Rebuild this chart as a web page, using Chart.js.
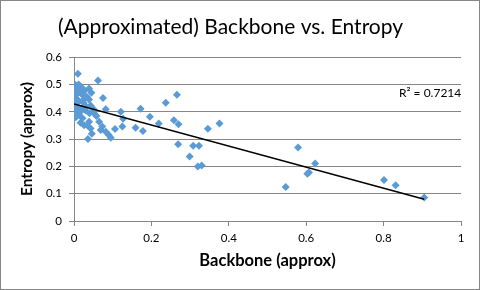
<!DOCTYPE html>
<html>
<head>
<meta charset="utf-8">
<script src="https://cdn.jsdelivr.net/npm/chart.js@4/dist/chart.umd.min.js"></script>
<style>
	body { margin: 0; background: #fff; }
	#wrap { width: 480px; height: 290px; }
</style>
</head>
<body>
<div id="wrap"><canvas id="grafico" width="480" height="290"></canvas></div>
<script>
var tituloGrafico = "(Approximated) Backbone vs. Entropy";
var tituloX = "Backbone (approx)";
var tituloY = "Entropy (approx)";
var textoR2 = "R\u00b2 = 0.7214";

var xTicks = [0, 0.2, 0.4, 0.6, 0.8, 1];
var yTicks = [0, 0.1, 0.2, 0.3, 0.4, 0.5, 0.6];

// backbone (x) e entropy (y)
var backbone = [
	0.010, 0.062, 0.000, 0.005, 0.013, 0.039, 0.028, 0.004, 0.018, 0.022,
	0.033, 0.045, 0.075, 0.000, 0.008, 0.039, 0.013, 0.025, 0.043, 0.003,
	0.010, 0.020, 0.000, 0.030, 0.050, 0.082, 0.015, 0.040, 0.013, 0.000,
	0.022, 0.006, 0.039, 0.026, 0.043, 0.065, 0.073, 0.069, 0.082, 0.090,
	0.106, 0.125, 0.036, 0.095, 0.121, 0.127, 0.159, 0.172, 0.178, 0.196,
	0.219, 0.237, 0.258, 0.266, 0.270, 0.376, 0.346, 0.269, 0.308, 0.323,
	0.299, 0.320, 0.330, 0.579, 0.623, 0.607, 0.603, 0.547, 0.801, 0.831,
	0.905, 0.002, 0.017, 0.035, 0.046, 0.058, 0.012, 0.030, 0.008, 0.052,
	0.004, 0.018, 0.027, 0.001
];
var entropy = [
	0.539, 0.515, 0.490, 0.485, 0.482, 0.485, 0.478, 0.470, 0.468, 0.462,
	0.455, 0.470, 0.451, 0.451, 0.445, 0.445, 0.439, 0.432, 0.423, 0.425,
	0.418, 0.412, 0.405, 0.405, 0.410, 0.409, 0.398, 0.395, 0.388, 0.376,
	0.376, 0.382, 0.364, 0.351, 0.339, 0.364, 0.346, 0.333, 0.327, 0.315,
	0.337, 0.346, 0.300, 0.305, 0.400, 0.375, 0.342, 0.411, 0.330, 0.382,
	0.357, 0.433, 0.369, 0.462, 0.354, 0.357, 0.338, 0.281, 0.276, 0.276,
	0.236, 0.200, 0.203, 0.269, 0.211, 0.178, 0.173, 0.125, 0.150, 0.131,
	0.086, 0.395, 0.360, 0.350, 0.320, 0.385, 0.500, 0.420, 0.465, 0.395,
	0.498, 0.492, 0.448, 0.432
];

var pontos = backbone.map(function (x, i) { return { x: x, y: entropy[i] }; });

// linha de tendencia (minimos quadrados)
var n = pontos.length, sx = 0, sy = 0, sxx = 0, sxy = 0;
pontos.forEach(function (p) { sx += p.x; sy += p.y; sxx += p.x * p.x; sxy += p.x * p.y; });
var inclinacao = (n * sxy - sx * sy) / (n * sxx - sx * sx);
var intercepto = (sy - inclinacao * sx) / n;
var xMin = Math.min.apply(null, backbone), xMax = Math.max.apply(null, backbone);
var tendencia = [
	{ x: xMin, y: intercepto + inclinacao * xMin },
	{ x: xMax, y: intercepto + inclinacao * xMax }
];

var cinza = "#868686";
var fonte = "Lato, 'Open Sans', sans-serif";

var molduraPlugin = {
	id: "moldura",
	afterDraw: function (chart) {
		var ctx = chart.ctx;
		ctx.save();
		ctx.strokeStyle = cinza;
		ctx.lineWidth = 1;
		ctx.strokeRect(0.5, 0.5, chart.width - 1, chart.height - 1);
		ctx.fillStyle = "#000";
		ctx.font = "12px " + fonte;
		ctx.textAlign = "left";
		ctx.textBaseline = "middle";
		ctx.fillText(textoR2, 399, 93);
		ctx.restore();
	}
};

var config = {
	type: "scatter",
	data: {
		datasets: [
			{
				label: "Entropy",
				data: pontos,
				backgroundColor: "#5B9BD5",
				borderColor: "#5B9BD5",
				borderWidth: 0,
				pointStyle: "rectRot",
				pointRadius: 4,
				pointHoverRadius: 4,
				order: 2
			},
			{
				label: "Linear",
				data: tendencia,
				showLine: true,
				borderColor: "#000",
				borderWidth: 1.5,
				pointRadius: 0,
				fill: false,
				order: 1
			}
		]
	},
	options: {
		responsive: false,
		animation: false,
		layout: { padding: { left: 0, right: 19, top: 0, bottom: 0 } },
		plugins: {
			legend: { display: false },
			tooltip: { enabled: false },
			title: {
				display: true,
				text: tituloGrafico,
				color: "#000",
				font: { family: fonte, size: 21, weight: "normal" },
				padding: { top: 15, bottom: 17 }
			}
		},
		scales: {
			x: {
				type: "linear",
				min: 0,
				max: 1,
				afterBuildTicks: function (axis) { axis.ticks = xTicks.map(function (v) { return { value: v }; }); },
				afterFit: function (axis) { axis.height = 69; },
				grid: { drawOnChartArea: false, drawTicks: true, tickLength: 5, color: cinza },
				border: { color: cinza },
				ticks: {
					color: "#000",
					padding: 5,
					font: { family: fonte, size: 11.5 },
					callback: function (v) { return String(v); }
				},
				title: {
					display: true,
					text: tituloX,
					color: "#000",
					font: { family: fonte, size: 16.5, weight: "bold" },
					padding: { top: 0, bottom: 19 }
				}
			},
			y: {
				type: "linear",
				min: 0,
				max: 0.6,
				afterBuildTicks: function (axis) { axis.ticks = yTicks.map(function (v) { return { value: v }; }); },
				afterFit: function (axis) { axis.width = 74; },
				grid: { drawOnChartArea: true, drawTicks: true, tickLength: 5, color: cinza },
				border: { color: cinza },
				ticks: {
					color: "#000",
					padding: 7,
					font: { family: fonte, size: 11.5 },
					callback: function (v) { return String(v); }
				},
				title: {
					display: true,
					text: tituloY,
					color: "#000",
					font: { family: fonte, size: 15.5, weight: "bold" },
					padding: { top: 18, bottom: 0 }
				}
			}
		}
	},
	plugins: [molduraPlugin]
};

var ctx = document.getElementById("grafico").getContext("2d");
window.graficoDispersao = new Chart(ctx, config);
</script>
</body>
</html>
